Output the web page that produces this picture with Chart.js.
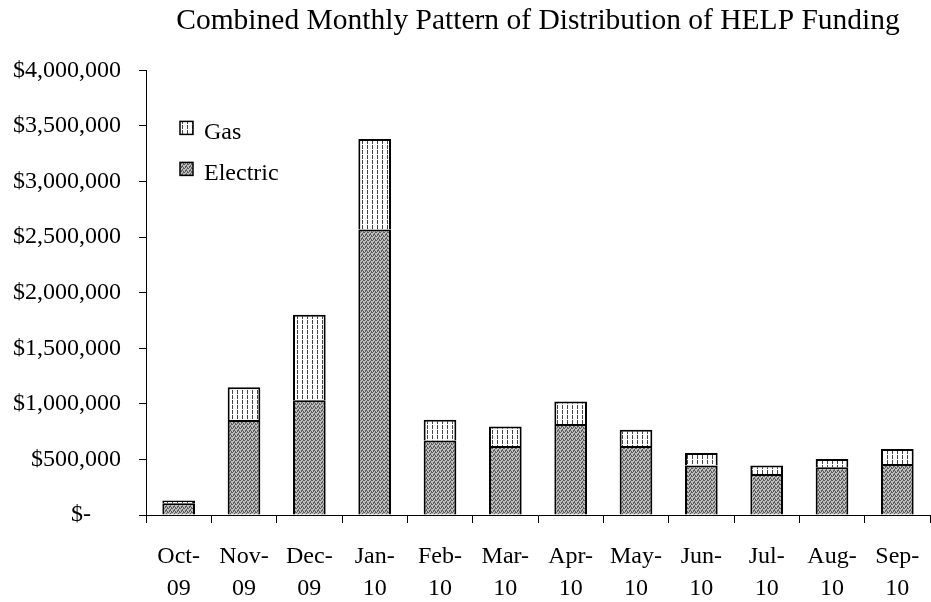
<!DOCTYPE html>
<html>
<head>
<meta charset="utf-8">
<script src="https://cdn.jsdelivr.net/npm/chart.js@4/dist/chart.umd.min.js"></script>
<style>
	html, body { margin: 0; padding: 0; background: #fff; }
	#wrap { width: 931px; height: 602px; }
</style>
</head>
<body>
<div id="wrap"><canvas id="help"></canvas></div>
<script>
const months = [
	['Oct-', '09'], ['Nov-', '09'], ['Dec-', '09'], ['Jan-', '10'],
	['Feb-', '10'], ['Mar-', '10'], ['Apr-', '10'], ['May-', '10'],
	['Jun-', '10'], ['Jul-', '10'], ['Aug-', '10'], ['Sep-', '10']
];
const electric = [105000, 855000, 1032000, 2569000, 671000, 620000, 818000, 620000, 445000, 370000, 430000, 458000];
const gas = [25000, 294000, 770000, 813000, 186000, 177000, 204000, 147000, 112000, 75000, 73000, 135000];

const serif = "'Liberation Serif', 'Times New Roman', serif";
Chart.defaults.font.family = serif;
Chart.defaults.color = '#000';

// stippled grey for electric
function stipple() {
	const c = document.createElement('canvas');
	c.width = 4; c.height = 4;
	const g = c.getContext('2d');
	g.fillStyle = '#bdbdbd';
	g.fillRect(0, 0, 4, 4);
	g.fillStyle = '#5e5e5e';
	[[0,0],[2,1],[1,2],[3,3],[3,0],[1,3],[2,2]].forEach(p => g.fillRect(p[0], p[1], 1, 1));
	return g.createPattern(c, 'repeat');
}

// white with dotted vertical lines for gas
function hatch() {
	const c = document.createElement('canvas');
	c.width = 5; c.height = 5;
	const g = c.getContext('2d');
	g.fillStyle = '#fff';
	g.fillRect(0, 0, 5, 5);
	g.fillStyle = '#444';
	g.fillRect(2, 0, 1, 4);
	return g.createPattern(c, 'repeat');
}

const elecFill = stipple();
const gasFill = hatch();

// legend drawn inside the plot area, gas on top
const insideLegend = {
	id: 'insideLegend',
	afterDraw(chart) {
		const ctx = chart.ctx;
		const a = chart.chartArea;
		const items = chart.data.datasets.slice().reverse();
		ctx.save();
		ctx.font = '24px ' + serif;
		ctx.textBaseline = 'alphabetic';
		items.forEach((ds, i) => {
			const y = a.top + 51 + i * 41;
			ctx.fillStyle = ds.backgroundColor;
			ctx.fillRect(a.left + 34, y, 13, 13);
			ctx.strokeStyle = '#000';
			ctx.lineWidth = 1.5;
			ctx.strokeRect(a.left + 34, y, 13, 13);
			ctx.fillStyle = '#000';
			ctx.fillText(ds.label, a.left + 58, y + 18);
		});
		ctx.restore();
	}
};

const helpCtx = document.getElementById('help');
const helpChart = new Chart(helpCtx, {
	type: 'bar',
	data: {
		labels: months,
		datasets: [{
			label: 'Electric',
			data: electric,
			backgroundColor: elecFill,
			borderColor: '#000',
			borderWidth: 2,
		}, {
			label: 'Gas',
			data: gas,
			backgroundColor: gasFill,
			borderColor: '#000',
			borderWidth: 2,
		}]
	},
	options: {
		responsive: true,
		maintainAspectRatio: false,
		animation: false,
		layout: {
			padding: { left: -5, right: 1, top: 0, bottom: -21 }
		},
		datasets: {
			bar: {
				categoryPercentage: 1,
				barPercentage: 0.5,
			}
		},
		plugins: {
			legend: { display: false },
			tooltip: { enabled: false },
			title: {
				display: true,
				text: 'Combined Monthly Pattern of Distribution of HELP Funding',
				fullSize: false,
				font: { size: 29.5, weight: 'normal' },
				padding: { top: 4, bottom: 31 },
			}
		},
		scales: {
			x: {
				stacked: true,
				border: { color: '#000', width: 1 },
				grid: {
					offset: true,
					drawOnChartArea: false,
					tickLength: 8,
					color: '#000',
				},
				ticks: {
					font: { size: 24, lineHeight: 1.333 },
					padding: 18,
					maxRotation: 0,
					autoSkip: false,
				},
				afterFit: s => { s.paddingLeft = 0; s.paddingRight = 0; },
			},
			y: {
				stacked: true,
				min: 0,
				max: 4000000,
				border: { color: '#000', width: 1 },
				grid: {
					drawOnChartArea: false,
					tickLength: 7,
					color: '#000',
				},
				ticks: {
					stepSize: 500000,
					font: { size: 24 },
					padding: 18,
					callback: v => v === 0 ? '$-     ' : '$' + v.toLocaleString('en-US'),
				}
			}
		}
	},
	plugins: [insideLegend]
});
</script>
</body>
</html>
